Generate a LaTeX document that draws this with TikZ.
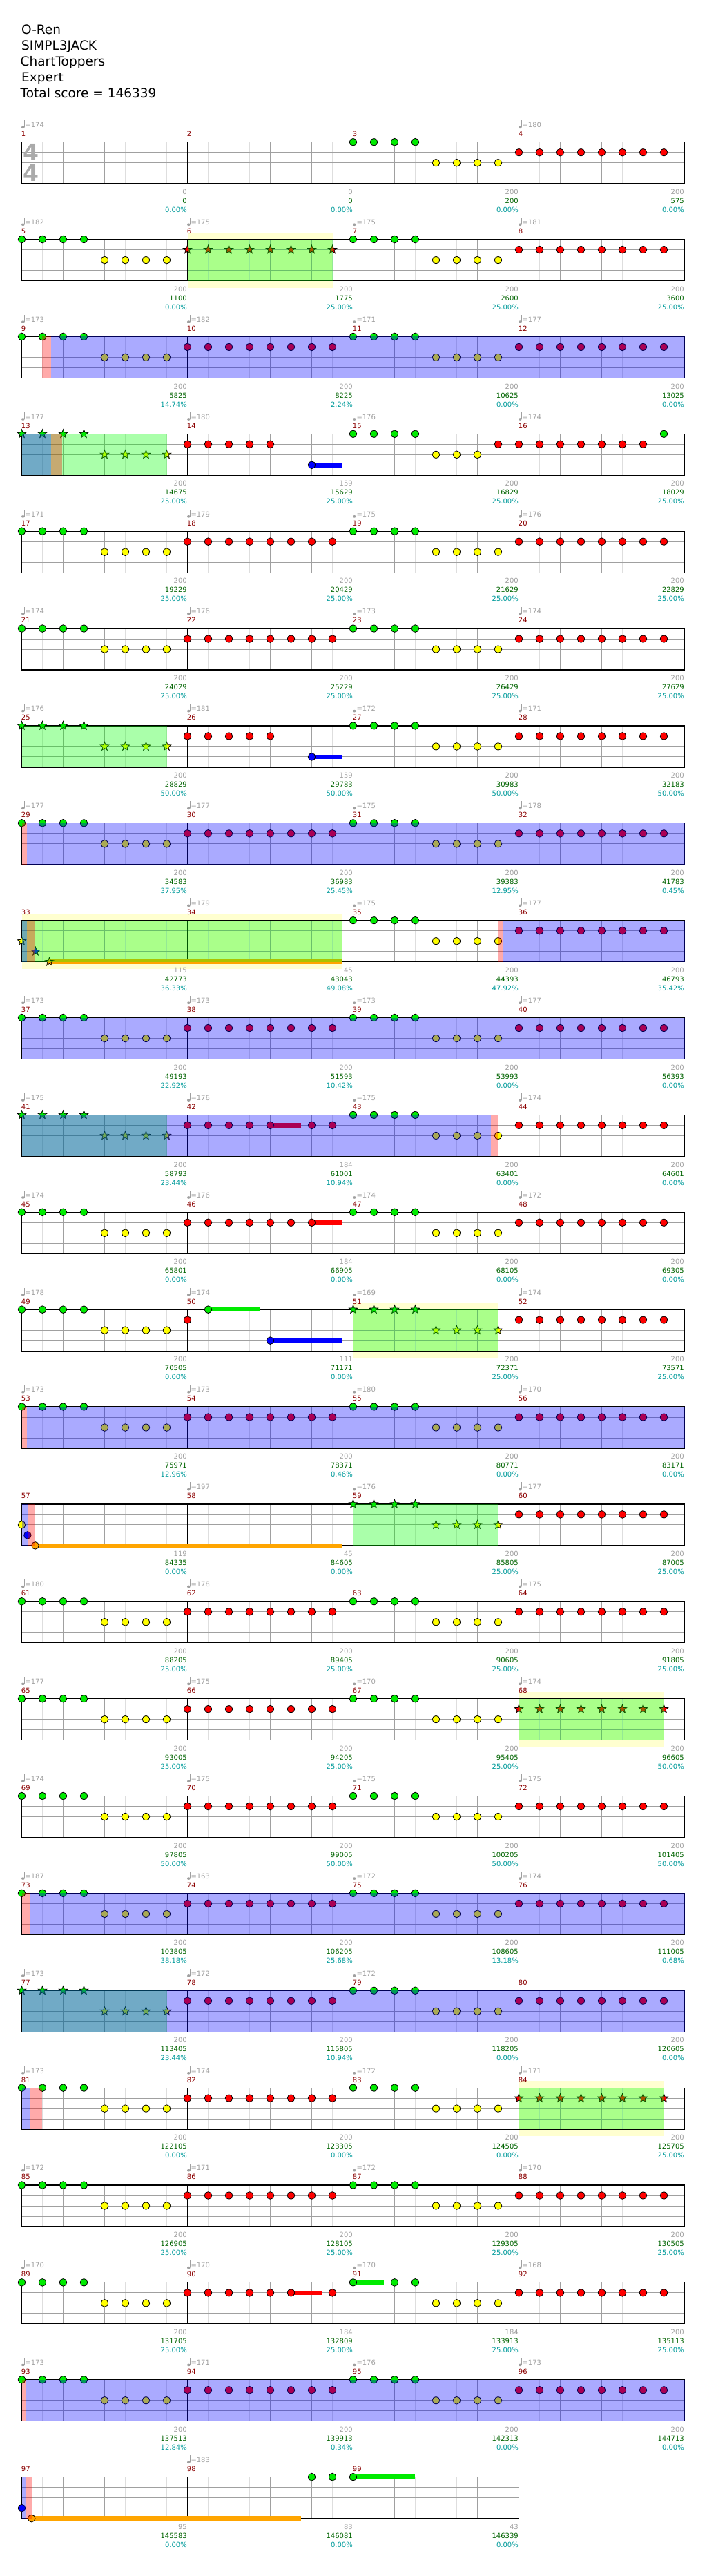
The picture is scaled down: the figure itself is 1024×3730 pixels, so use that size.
\documentclass[tikz,border=0pt]{standalone}
\usepackage{fontspec}
\setmainfont{DejaVu Sans}
\definecolor{ngreen}{RGB}{0,235,0}
\definecolor{nred}{RGB}{255,0,0}
\definecolor{nyellow}{RGB}{255,255,0}
\definecolor{nblue}{RGB}{0,0,255}
\definecolor{norange}{RGB}{255,165,0}
\definecolor{tgray}{RGB}{160,160,160}
\definecolor{tsgray}{RGB}{170,170,170}
\definecolor{sgreen}{RGB}{0,100,0}
\definecolor{pcyan}{RGB}{0,155,155}
\definecolor{mred}{RGB}{139,0,0}
\definecolor{spbg}{RGB}{255,255,208}
\definecolor{hgray}{RGB}{222,222,222}
\definecolor{bgray}{RGB}{160,160,160}
\definecolor{ovg}{RGB}{0,255,0}
\definecolor{ovr}{RGB}{255,0,0}
\definecolor{ovb}{RGB}{0,0,255}
\tikzset{
 smallt/.style={font=\fontsize{10}{12}\selectfont, inner sep=0pt},
 headt/.style={font=\fontsize{18.5}{22}\selectfont, inner sep=0pt, anchor=base west},
 hline/.style={draw=hgray, line width=1pt},
 bline/.style={draw=bgray, line width=1pt},
 mline/.style={draw=black, line width=1.2pt},
 notec/.style={draw=black, line width=0.8pt},
}
\newcommand\SetM[1]{\pgfmathtruncatemacro\Mr{int((#1-1)/4)}\pgfmathtruncatemacro\Mcol{#1-1-4*\Mr}\pgfmathsetmacro\Mx{31.5+240*\Mcol}\pgfmathsetmacro\My{205.7+140.87*\Mr}}
\newcommand\SetR[1]{\pgfmathsetmacro\Ry{205.7+140.87*(#1-1)}}
\newcommand\Nc[4]{\SetM{#1}\draw[notec,fill=#4] ({\Mx+30*(#2)},{\My+#3}) circle (5.3);}
\newcommand\Ns[4]{\SetM{#1}\draw[notec,line width=0.7pt,fill=#4,shift={({\Mx+30*(#2)},{\My+#3})}] (270:6.6) \foreach \a in {0,...,4}{ -- ({306+72*\a}:2.7) -- ({342+72*\a}:6.6)} -- cycle;}
\newcommand\Sus[5]{\SetM{#1}\fill[#5] ({\Mx+30*(#2)},{\My+#3-3.3}) rectangle ++(#4,6.6);}
\newcommand\GY[1]{\foreach \k in {0,...,3}{\Nc{#1}{\k}{0}{ngreen}}\foreach \k in {4,...,7}{\Nc{#1}{\k}{30}{nyellow}}}
\newcommand\RR[1]{\foreach \k in {0,...,7}{\Nc{#1}{\k}{15}{nred}}}
\newcommand\SGY[1]{\foreach \k in {0,...,3}{\Ns{#1}{\k}{0}{ngreen}}\foreach \k in {4,...,7}{\Ns{#1}{\k}{30}{nyellow}}}
\newcommand\SRR[1]{\foreach \k in {0,...,7}{\Ns{#1}{\k}{15}{nred}}}
\newcommand\Std[4]{\GY{#1}\RR{#2}\GY{#3}\RR{#4}}
\newcommand\Staff[2]{\SetR{#1}\pgfmathsetmacro\Rx{31.5+240*#2}\pgfmathtruncatemacro\Nb{4*#2-1}%
 \foreach \i in {0,...,\Nb}{\draw[hline] ({61.5+60*\i},\Ry) -- ++(0,60);}%
 \foreach \i in {1,...,\Nb}{\draw[bline] ({31.5+60*\i},\Ry) -- ++(0,60);}%
 \foreach \j in {15,30,45}{\draw[bline] (31.5,{\Ry+\j}) -- (\Rx,{\Ry+\j});}%
 \pgfmathtruncatemacro\Nm{#2-1}%
 \foreach \j in {1,...,\Nm}{\draw[mline] ({31.5+240*\j},\Ry) -- ++(0,60);}%
 \draw[mline] (31.5,\Ry) rectangle (\Rx,{\Ry+60});}
\newcommand\Ov[4]{\SetR{#1}\fill[#4,fill opacity=0.3333] (#2,\Ry) rectangle (#3,{\Ry+60});}
\newcommand\Yb[3]{\SetR{#1}\fill[spbg] (#2,{\Ry-10}) rectangle (#3,{\Ry+70});}
\newcommand\Tp[2]{\SetM{#1}%
 \fill[tgray] ({\Mx+1.8},{\My-21.3}) ellipse (2.3 and 1.8);%
 \draw[tgray,line width=0.9pt] ({\Mx+3.9},{\My-21.5}) -- ({\Mx+3.9},{\My-31.5});%
 \node[smallt,text=tgray,anchor=base west] (tp#1) at ({\Mx+4.8},{\My-24.7+3.6}) {=#2};}
\newcommand\Mn[1]{\SetM{#1}\node[smallt,text=mred,anchor=base west] (mn#1) at ({\Mx-0.8},{\My-11.7+3.6}) {#1};}
\newcommand\Mns[4]{\Mn{#1}\Mn{#2}\Mn{#3}\Mn{#4}}
\newcommand\Vl[4]{\SetM{#1}%
 \node[smallt,text=tgray,anchor=base east] (vg#1) at ({\Mx+239.5},{\My+72+3.6}) {#2};%
 \node[smallt,text=sgreen,anchor=base east] (vs#1) at ({\Mx+239.5},{\My+85+3.6}) {#3};%
 \node[smallt,text=pcyan,anchor=base east] (vp#1) at ({\Mx+239.5},{\My+98+3.6}) {#4\%};}
\begin{document}
\begin{tikzpicture}[x=1pt,y=-1pt]
\useasboundingbox (0,0) rectangle (1024,3730);
\fill[white] (0,0) rectangle (1024,3730);
% header
\node[headt] (h1) at (31,49.3) {O-Ren};
\node[headt] (h2) at (31,72.3) {SIMPL3JACK};
\node[headt] (h3) at (29.5,95.3) {ChartToppers};
\node[headt] (h4) at (31,118.3) {Expert};
\node[headt] (h5) at (29.5,141.3) {Total score = 146339};
% ---------- Row 1
\Staff{1}{4}
\node[font=\bfseries\fontsize{33}{33}\selectfont,text=tsgray,inner sep=0pt,anchor=base] (ts1) at (44.5,233) {4};
\node[font=\bfseries\fontsize{33}{33}\selectfont,text=tsgray,inner sep=0pt,anchor=base] (ts2) at (44.5,263) {4};
\GY{3}\RR{4}
\Tp{1}{174}\Tp{4}{180}
\Mns{1}{2}{3}{4}
\Vl{1}{0}{0}{0.00}\Vl{2}{0}{0}{0.00}\Vl{3}{200}{200}{0.00}\Vl{4}{200}{575}{0.00}
% ---------- Row 2
\Yb{2}{271.5}{481.5}
\Staff{2}{4}
\GY{5}\SRR{6}\GY{7}\RR{8}
\Ov{2}{271.5}{481.5}{ovg}
\Tp{5}{182}\Tp{6}{175}\Tp{7}{175}\Tp{8}{181}
\Mns{5}{6}{7}{8}
\Vl{5}{200}{1100}{0.00}\Vl{6}{200}{1775}{25.00}\Vl{7}{200}{2600}{25.00}\Vl{8}{200}{3600}{25.00}
% ---------- Row 3
\Staff{3}{4}
\Std{9}{10}{11}{12}
\Ov{3}{60.8}{73.8}{ovr}\Ov{3}{73.8}{991.5}{ovb}
\Tp{9}{173}\Tp{10}{182}\Tp{11}{171}\Tp{12}{177}
\Mns{9}{10}{11}{12}
\Vl{9}{200}{5825}{14.74}\Vl{10}{200}{8225}{2.24}\Vl{11}{200}{10625}{0.00}\Vl{12}{200}{13025}{0.00}
% ---------- Row 4
\Staff{4}{4}
\SGY{13}
\foreach \k in {0,...,4}{\Nc{14}{\k}{15}{nred}}\Sus{14}{6}{45}{44}{nblue}\Nc{14}{6}{45}{nblue}
\foreach \k in {0,...,3}{\Nc{15}{\k}{0}{ngreen}}\foreach \k in {4,5,6}{\Nc{15}{\k}{30}{nyellow}}\Nc{15}{7}{15}{nred}
\foreach \k in {0,...,6}{\Nc{16}{\k}{15}{nred}}\Nc{16}{7}{0}{ngreen}
\Ov{4}{31.5}{241.5}{ovg}\Ov{4}{73.7}{90}{ovr}\Ov{4}{31.5}{73.7}{ovb}
\Tp{13}{177}\Tp{14}{180}\Tp{15}{176}\Tp{16}{174}
\Mns{13}{14}{15}{16}
\Vl{13}{200}{14675}{25.00}\Vl{14}{159}{15629}{25.00}\Vl{15}{200}{16829}{25.00}\Vl{16}{200}{18029}{25.00}
% ---------- Row 5
\Staff{5}{4}
\Std{17}{18}{19}{20}
\Tp{17}{171}\Tp{18}{179}\Tp{19}{175}\Tp{20}{176}
\Mns{17}{18}{19}{20}
\Vl{17}{200}{19229}{25.00}\Vl{18}{200}{20429}{25.00}\Vl{19}{200}{21629}{25.00}\Vl{20}{200}{22829}{25.00}
% ---------- Row 6
\Staff{6}{4}
\Std{21}{22}{23}{24}
\Tp{21}{174}\Tp{22}{176}\Tp{23}{173}\Tp{24}{174}
\Mns{21}{22}{23}{24}
\Vl{21}{200}{24029}{25.00}\Vl{22}{200}{25229}{25.00}\Vl{23}{200}{26429}{25.00}\Vl{24}{200}{27629}{25.00}
% ---------- Row 7
\Staff{7}{4}
\SGY{25}
\foreach \k in {0,...,4}{\Nc{26}{\k}{15}{nred}}\Sus{26}{6}{45}{44}{nblue}\Nc{26}{6}{45}{nblue}
\GY{27}\RR{28}
\Ov{7}{31.5}{241.5}{ovg}
\Tp{25}{176}\Tp{26}{181}\Tp{27}{172}\Tp{28}{171}
\Mns{25}{26}{27}{28}
\Vl{25}{200}{28829}{50.00}\Vl{26}{159}{29783}{50.00}\Vl{27}{200}{30983}{50.00}\Vl{28}{200}{32183}{50.00}
% ---------- Row 8
\Staff{8}{4}
\Std{29}{30}{31}{32}
\Ov{8}{31.5}{38.5}{ovr}\Ov{8}{38.5}{991.5}{ovb}
\Tp{29}{177}\Tp{30}{177}\Tp{31}{175}\Tp{32}{178}
\Mns{29}{30}{31}{32}
\Vl{29}{200}{34583}{37.95}\Vl{30}{200}{36983}{25.45}\Vl{31}{200}{39383}{12.95}\Vl{32}{200}{41783}{0.45}
% ---------- Row 9
\Yb{9}{31.5}{495.5}
\Staff{9}{4}
\Ns{33}{0}{30}{nyellow}\Ns{33}{0.6667}{45}{nblue}
\Sus{33}{1.3333}{60}{424}{norange}\Ns{33}{1.3333}{60}{norange}
\GY{35}\RR{36}
\Ov{9}{31.5}{495.5}{ovg}\Ov{9}{39}{51}{ovr}\Ov{9}{31.5}{39}{ovb}
\Ov{9}{721.5}{728.3}{ovr}\Ov{9}{728.3}{991.5}{ovb}
\Tp{34}{179}\Tp{35}{175}\Tp{36}{177}
\Mns{33}{34}{35}{36}
\Vl{33}{115}{42773}{36.33}\Vl{34}{45}{43043}{49.08}\Vl{35}{200}{44393}{47.92}\Vl{36}{200}{46793}{35.42}
% ---------- Row 10
\Staff{10}{4}
\Std{37}{38}{39}{40}
\Ov{10}{31.5}{991.5}{ovb}
\Tp{37}{173}\Tp{38}{173}\Tp{39}{173}\Tp{40}{177}
\Mns{37}{38}{39}{40}
\Vl{37}{200}{49193}{22.92}\Vl{38}{200}{51593}{10.42}\Vl{39}{200}{53993}{0.00}\Vl{40}{200}{56393}{0.00}
% ---------- Row 11
\Staff{11}{4}
\SGY{41}
\foreach \k in {0,...,3}{\Nc{42}{\k}{15}{nred}}\Sus{42}{4}{15}{44}{nred}\Nc{42}{4}{15}{nred}\Nc{42}{6}{15}{nred}\Nc{42}{7}{15}{nred}
\GY{43}\RR{44}
\Ov{11}{31.5}{241.5}{ovg}\Ov{11}{31.5}{711.3}{ovb}\Ov{11}{711.3}{721.5}{ovr}
\Tp{41}{175}\Tp{42}{176}\Tp{43}{175}\Tp{44}{174}
\Mns{41}{42}{43}{44}
\Vl{41}{200}{58793}{23.44}\Vl{42}{184}{61001}{10.94}\Vl{43}{200}{63401}{0.00}\Vl{44}{200}{64601}{0.00}
% ---------- Row 12
\Staff{12}{4}
\GY{45}
\foreach \k in {0,...,5}{\Nc{46}{\k}{15}{nred}}\Sus{46}{6}{15}{44}{nred}\Nc{46}{6}{15}{nred}
\GY{47}\RR{48}
\Tp{45}{174}\Tp{46}{176}\Tp{47}{174}\Tp{48}{172}
\Mns{45}{46}{47}{48}
\Vl{45}{200}{65801}{0.00}\Vl{46}{184}{66905}{0.00}\Vl{47}{200}{68105}{0.00}\Vl{48}{200}{69305}{0.00}
% ---------- Row 13
\Yb{13}{511.5}{721.5}
\Staff{13}{4}
\GY{49}
\Nc{50}{0}{15}{nred}\Sus{50}{1}{0}{75}{ngreen}\Nc{50}{1}{0}{ngreen}\Sus{50}{4}{45}{104.5}{nblue}\Nc{50}{4}{45}{nblue}
\SGY{51}\RR{52}
\Ov{13}{511.5}{721.5}{ovg}
\Tp{49}{178}\Tp{50}{174}\Tp{51}{169}\Tp{52}{174}
\Mns{49}{50}{51}{52}
\Vl{49}{200}{70505}{0.00}\Vl{50}{111}{71171}{0.00}\Vl{51}{200}{72371}{25.00}\Vl{52}{200}{73571}{25.00}
% ---------- Row 14
\Staff{14}{4}
\Std{53}{54}{55}{56}
\Ov{14}{31.5}{38.5}{ovr}\Ov{14}{38.5}{991.5}{ovb}
\Tp{53}{173}\Tp{54}{173}\Tp{55}{180}\Tp{56}{170}
\Mns{53}{54}{55}{56}
\Vl{53}{200}{75971}{12.96}\Vl{54}{200}{78371}{0.46}\Vl{55}{200}{80771}{0.00}\Vl{56}{200}{83171}{0.00}
% ---------- Row 15
\Staff{15}{4}
\Nc{57}{0}{30}{nyellow}\Nc{57}{0.28}{45}{nblue}\Sus{57}{0.65}{60}{444.5}{norange}\Nc{57}{0.65}{60}{norange}
\SGY{59}\RR{60}
\Ov{15}{31.5}{40.5}{ovb}\Ov{15}{40.5}{51}{ovr}\Ov{15}{511.5}{721.5}{ovg}
\Tp{58}{197}\Tp{59}{176}\Tp{60}{177}
\Mns{57}{58}{59}{60}
\Vl{57}{119}{84335}{0.00}\Vl{58}{45}{84605}{0.00}\Vl{59}{200}{85805}{25.00}\Vl{60}{200}{87005}{25.00}
% ---------- Row 16
\Staff{16}{4}
\Std{61}{62}{63}{64}
\Tp{61}{180}\Tp{62}{178}\Tp{64}{175}
\Mns{61}{62}{63}{64}
\Vl{61}{200}{88205}{25.00}\Vl{62}{200}{89405}{25.00}\Vl{63}{200}{90605}{25.00}\Vl{64}{200}{91805}{25.00}
% ---------- Row 17
\Yb{17}{751.5}{961.5}
\Staff{17}{4}
\GY{65}\RR{66}\GY{67}\SRR{68}
\Ov{17}{751.5}{961.5}{ovg}
\Tp{65}{177}\Tp{66}{175}\Tp{67}{170}\Tp{68}{174}
\Mns{65}{66}{67}{68}
\Vl{65}{200}{93005}{25.00}\Vl{66}{200}{94205}{25.00}\Vl{67}{200}{95405}{25.00}\Vl{68}{200}{96605}{50.00}
% ---------- Row 18
\Staff{18}{4}
\Std{69}{70}{71}{72}
\Tp{69}{174}\Tp{70}{175}\Tp{71}{175}\Tp{72}{175}
\Mns{69}{70}{71}{72}
\Vl{69}{200}{97805}{50.00}\Vl{70}{200}{99005}{50.00}\Vl{71}{200}{100205}{50.00}\Vl{72}{200}{101405}{50.00}
% ---------- Row 19
\Staff{19}{4}
\Std{73}{74}{75}{76}
\Ov{19}{31.5}{43.8}{ovr}\Ov{19}{43.8}{991.5}{ovb}
\Tp{73}{187}\Tp{74}{163}\Tp{75}{172}\Tp{76}{174}
\Mns{73}{74}{75}{76}
\Vl{73}{200}{103805}{38.18}\Vl{74}{200}{106205}{25.68}\Vl{75}{200}{108605}{13.18}\Vl{76}{200}{111005}{0.68}
% ---------- Row 20
\Staff{20}{4}
\SGY{77}\RR{78}\GY{79}\RR{80}
\Ov{20}{31.5}{241.5}{ovg}\Ov{20}{31.5}{991.5}{ovb}
\Tp{77}{173}\Tp{78}{172}\Tp{79}{172}
\Mns{77}{78}{79}{80}
\Vl{77}{200}{113405}{23.44}\Vl{78}{200}{115805}{10.94}\Vl{79}{200}{118205}{0.00}\Vl{80}{200}{120605}{0.00}
% ---------- Row 21
\Yb{21}{751.5}{961.5}
\Staff{21}{4}
\GY{81}\RR{82}\GY{83}\SRR{84}
\Ov{21}{31.5}{43.8}{ovb}\Ov{21}{43.8}{60.7}{ovr}\Ov{21}{751.5}{961.5}{ovg}
\Tp{81}{173}\Tp{82}{174}\Tp{83}{172}\Tp{84}{171}
\Mns{81}{82}{83}{84}
\Vl{81}{200}{122105}{0.00}\Vl{82}{200}{123305}{0.00}\Vl{83}{200}{124505}{0.00}\Vl{84}{200}{125705}{25.00}
% ---------- Row 22
\Staff{22}{4}
\Std{85}{86}{87}{88}
\Tp{85}{172}\Tp{86}{171}\Tp{87}{172}\Tp{88}{170}
\Mns{85}{86}{87}{88}
\Vl{85}{200}{126905}{25.00}\Vl{86}{200}{128105}{25.00}\Vl{87}{200}{129305}{25.00}\Vl{88}{200}{130505}{25.00}
% ---------- Row 23
\Staff{23}{4}
\GY{89}
\foreach \k in {0,...,4}{\Nc{90}{\k}{15}{nred}}\Sus{90}{5}{15}{45}{nred}\Nc{90}{5}{15}{nred}\Nc{90}{7}{15}{nred}
\Sus{91}{0}{0}{44}{ngreen}\Nc{91}{0}{0}{ngreen}\Nc{91}{2}{0}{ngreen}\Nc{91}{3}{0}{ngreen}\foreach \k in {4,...,7}{\Nc{91}{\k}{30}{nyellow}}
\RR{92}
\Tp{89}{170}\Tp{90}{170}\Tp{91}{170}\Tp{92}{168}
\Mns{89}{90}{91}{92}
\Vl{89}{200}{131705}{25.00}\Vl{90}{184}{132809}{25.00}\Vl{91}{184}{133913}{25.00}\Vl{92}{200}{135113}{25.00}
% ---------- Row 24
\Staff{24}{4}
\Std{93}{94}{95}{96}
\Ov{24}{31.5}{37.2}{ovr}\Ov{24}{37.2}{991.5}{ovb}
\Tp{93}{173}\Tp{94}{171}\Tp{95}{176}\Tp{96}{173}
\Mns{93}{94}{95}{96}
\Vl{93}{200}{137513}{12.84}\Vl{94}{200}{139913}{0.34}\Vl{95}{200}{142313}{0.00}\Vl{96}{200}{144713}{0.00}
% ---------- Row 25
\Staff{25}{3}
\Nc{97}{0}{45}{nblue}\Sus{97}{0.473}{60}{390.3}{norange}\Nc{97}{0.473}{60}{norange}
\Nc{98}{6}{0}{ngreen}\Nc{98}{7}{0}{ngreen}
\Sus{99}{0}{0}{89.5}{ngreen}\Nc{99}{0}{0}{ngreen}
\Ov{25}{31.5}{37.6}{ovb}\Ov{25}{37.6}{45.7}{ovr}
\Tp{98}{183}
\Mn{97}\Mn{98}\Mn{99}
\Vl{97}{95}{145583}{0.00}\Vl{98}{83}{146081}{0.00}\Vl{99}{43}{146339}{0.00}
\end{tikzpicture}
\end{document}
